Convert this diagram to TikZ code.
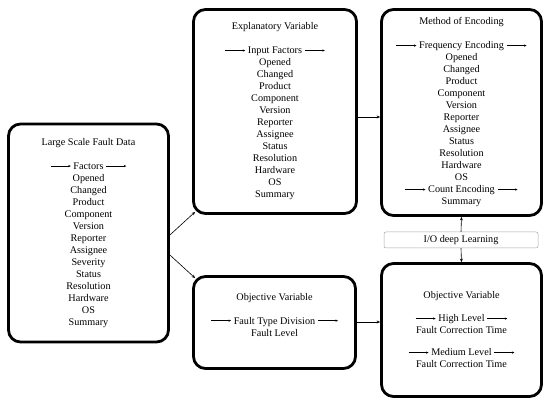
\documentclass[tikz,border=0pt]{standalone}
\usepackage{fontspec}
\setmainfont{Liberation Serif}
\usetikzlibrary{arrows.meta}
\newcommand{\lnarr}{\tikz[baseline=0pt,x=1cm,y=1cm]\draw[line width=0.35pt,-{Stealth[length=2.5pt,width=2.2pt]}] (0pt,3.4pt) -- (20pt,3.4pt);}
\begin{document}
\begin{tikzpicture}[x=1pt,y=-1pt,
  bigbox/.style={draw=black,line width=2.8pt,rounded corners=12pt,align=center,
    font=\fontsize{10.2}{12}\selectfont,inner sep=0pt},
  iobox/.style={draw=black!35,line width=0.5pt,rounded corners=2pt,align=center,
    font=\fontsize{10.2}{12}\selectfont,inner sep=0pt},
  conn/.style={line width=0.6pt,-{Stealth[length=3.5pt,width=3pt]}}]
\useasboundingbox (0,0) rectangle (550,406);
\node[bigbox,minimum width=160pt,minimum height=218pt] (b1) at (88.5,233)
 {Large Scale Fault Data\\[12pt]\lnarr{} Factors \lnarr\\Opened\\Changed\\Product\\Component\\Version\\Reporter\\Assignee\\Severity\\Status\\Resolution\\Hardware\\OS\\Summary};
\node[bigbox,minimum width=163pt,minimum height=204pt] (b2) at (275,111.5)
 {Explanatory Variable\\[12pt]\lnarr{} Input Factors \lnarr\\Opened\\Changed\\Product\\Component\\Version\\Reporter\\Assignee\\Status\\Resolution\\Hardware\\OS\\Summary};
\node[bigbox,minimum width=160pt,minimum height=206pt] (b3) at (461.5,112.5)
 {Method of Encoding\\[12pt]\lnarr{} Frequency Encoding \lnarr\\Opened\\Changed\\Product\\Component\\Version\\Reporter\\Assignee\\Status\\Resolution\\Hardware\\OS\\\lnarr{} Count Encoding \lnarr\\Summary};
\node[iobox,minimum width=154pt,minimum height=16pt] (io) at (461,240) {I/O deep Learning};
\node[bigbox,minimum width=160pt,minimum height=133pt] (b4) at (461.5,330)
 {Objective Variable\\[11pt]\lnarr{} High Level \lnarr\\Fault Correction Time\\[10pt]\lnarr{} Medium Level \lnarr\\Fault Correction Time};
\node[bigbox,minimum width=162pt,minimum height=92pt] (b5) at (274.5,322.5)
 {Objective Variable\\[12pt]\lnarr{} Fault Type Division \lnarr\\Fault Level\\[4pt]};
\coordinate (r1) at (0,117);
\coordinate (r2) at (0,322);
\draw[conn] ([yshift=-2pt]b1.east) -- ([xshift=3pt,yshift=3pt]b2.south west);
\draw[conn] ([yshift=-22pt]b1.east) -- ([xshift=3pt,yshift=-3pt]b5.north west);
\draw[conn] (b2.east |- r1) -- (b3.west |- r1);
\draw[conn] (b5.east |- r2) -- (b4.west |- r2);
\draw[conn] (io.north) -- (b3.south);
\draw[conn] (io.south) -- (b4.north);
\end{tikzpicture}
\end{document}
